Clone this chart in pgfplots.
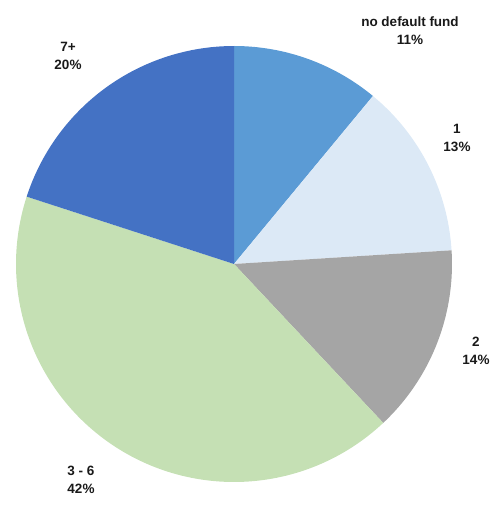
\documentclass[border=0pt]{standalone}
\usepackage{pgfplots}
\pgfplotsset{compat=1.18}
\usepackage{fontspec}
\setmainfont{Liberation Sans}
\definecolor{cA}{RGB}{91,155,213}
\definecolor{cB}{RGB}{220,233,246}
\definecolor{cC}{RGB}{165,165,165}
\definecolor{cD}{RGB}{197,224,180}
\definecolor{cE}{RGB}{68,114,196}
\tikzset{lbl/.style={font=\fontsize{13.5}{18}\selectfont\bfseries, align=center, text=black!90, inner sep=0pt}}
\begin{document}
\begin{tikzpicture}
\begin{axis}[x=1pt,y=1pt,xmin=0,xmax=493,ymin=0,ymax=507,axis lines=none,scale only axis,clip=false]
% values: no default fund 11, 1 13, 2 14, 3-6 42, 7+ 20 (percent), clockwise from 12 o'clock
\addplot[fill=cA, draw=none, domain={90-3.6*0}:{90-3.6*11}, samples=60, variable=\t] ({234+218*cos(\t)},{243+218*sin(\t)}) -- (axis cs:234,243) -- cycle;
\addplot[fill=cB, draw=none, domain={90-3.6*11}:{90-3.6*24}, samples=60, variable=\t] ({234+218*cos(\t)},{243+218*sin(\t)}) -- (axis cs:234,243) -- cycle;
\addplot[fill=cC, draw=none, domain={90-3.6*24}:{90-3.6*38}, samples=60, variable=\t] ({234+218*cos(\t)},{243+218*sin(\t)}) -- (axis cs:234,243) -- cycle;
\addplot[fill=cD, draw=none, domain={90-3.6*38}:{90-3.6*80}, samples=120, variable=\t] ({234+218*cos(\t)},{243+218*sin(\t)}) -- (axis cs:234,243) -- cycle;
\addplot[fill=cE, draw=none, domain={90-3.6*80}:{90-3.6*100}, samples=60, variable=\t] ({234+218*cos(\t)},{243+218*sin(\t)}) -- (axis cs:234,243) -- cycle;
\node[lbl] at (axis cs:410,476) {no default fund\\11\%};
\node[lbl] at (axis cs:457,369) {1\\13\%};
\node[lbl] at (axis cs:476,156) {2\\14\%};
\node[lbl] at (axis cs:81,27) {3 - 6\\42\%};
\node[lbl] at (axis cs:68,451) {7+\\20\%};
\end{axis}
\pgfresetboundingbox
\path (current axis.south west) rectangle (current axis.north east);
\end{tikzpicture}
\end{document}
